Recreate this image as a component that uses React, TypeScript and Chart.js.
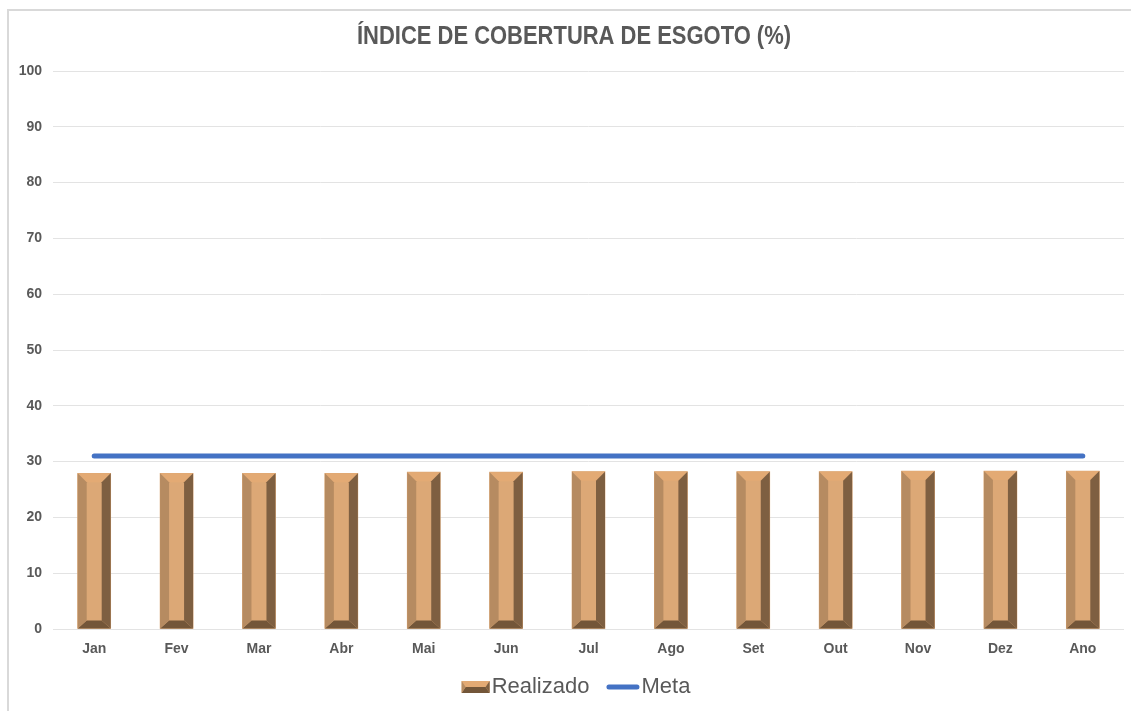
import React, { useEffect, useRef } from "react";
import { Chart, registerables } from "chart.js";

Chart.register(...registerables);

const categories = ["Jan", "Fev", "Mar", "Abr", "Mai", "Jun", "Jul", "Ago", "Set", "Out", "Nov", "Dez", "Ano"];
const realizado = [27.9, 27.9, 27.9, 27.9, 28.1, 28.1, 28.2, 28.2, 28.2, 28.2, 28.3, 28.3, 28.3];
const meta = [31, 31, 31, 31, 31, 31, 31, 31, 31, 31, 31, 31, 31];
const yTicks = [0, 10, 20, 30, 40, 50, 60, 70, 80, 90, 100];
const titleText = "ÍNDICE DE COBERTURA DE ESGOTO (%)";
const seriesNames = ["Realizado", "Meta"];

const FACE = "#DCA876";
const TOP = "#E3AA74";
const LEFT = "#B68B61";
const RIGHT = "#7E5F41";
const BOTTOM = "#735639";
const LINE = "#4472C4";
const TEXT = "#595959";
const SANS = "'Liberation Sans', Arial, sans-serif";

function bevel(ctx: CanvasRenderingContext2D, l: number, t: number, r: number, btm: number, bx: number, bt: number, bb: number) {
  const poly = (pts: number[][], c: string) => {
    ctx.beginPath();
    ctx.moveTo(pts[0][0], pts[0][1]);
    for (let i = 1; i < pts.length; i++) ctx.lineTo(pts[i][0], pts[i][1]);
    ctx.closePath();
    ctx.fillStyle = c;
    ctx.fill();
  };
  ctx.fillStyle = FACE;
  ctx.fillRect(l, t, r - l, btm - t);
  poly([[l, t], [r, t], [r - bx, t + bt], [l + bx, t + bt]], TOP);
  poly([[l, btm], [r, btm], [r - bx, btm - bb], [l + bx, btm - bb]], BOTTOM);
  poly([[l, t], [l + bx, t + bt], [l + bx, btm - bb], [l, btm]], LEFT);
  poly([[r, t], [r - bx, t + bt], [r - bx, btm - bb], [r, btm]], RIGHT);
}

const bevelPlugin = {
  id: "bevelBars",
  afterDatasetsDraw(chart: any) {
    const ctx = chart.ctx as CanvasRenderingContext2D;
    const m = chart.getDatasetMeta(0);
    ctx.save();
    m.data.forEach((el: any) => {
      const { x, y, base, width } = el.getProps(["x", "y", "base", "width"], true);
      bevel(ctx, x - width / 2, y, x + width / 2, base, 9, 9, 8);
    });
    ctx.restore();
  },
};

const titlePlugin = {
  id: "narrowTitle",
  afterDraw(chart: any) {
    const ctx = chart.ctx as CanvasRenderingContext2D;
    ctx.save();
    ctx.font = `bold 25px ${SANS}`;
    const w = ctx.measureText(titleText).width;
    const sx = 434 / w;
    ctx.translate(574, 37);
    ctx.scale(sx, 1);
    ctx.fillStyle = TEXT;
    ctx.textAlign = "center";
    ctx.textBaseline = "middle";
    ctx.fillText(titleText, 0, 0);
    ctx.restore();
  },
};

const legendPlugin = {
  id: "customLegend",
  afterDraw(chart: any) {
    const ctx = chart.ctx as CanvasRenderingContext2D;
    ctx.save();
    ctx.font = `22px ${SANS}`;
    const w1 = ctx.measureText(seriesNames[0]).width;
    const w2 = ctx.measureText(seriesNames[1]).width;
    const iconW = 28, lineW = 33, gap = 2, sep = 17;
    const total = iconW + gap + w1 + sep + lineW + gap + w2;
    const cx = 576;
    const cy = 687;
    let x = cx - total / 2;
    bevel(ctx, x, cy - 6, x + iconW, cy + 6, 4, 6, 6);
    x += iconW + gap;
    ctx.fillStyle = TEXT;
    ctx.textBaseline = "middle";
    ctx.textAlign = "left";
    ctx.fillText(seriesNames[0], x, cy);
    x += w1 + sep;
    ctx.strokeStyle = LINE;
    ctx.lineWidth = 5;
    ctx.lineCap = "round";
    ctx.beginPath();
    ctx.moveTo(x + 2.5, cy);
    ctx.lineTo(x + lineW - 2.5, cy);
    ctx.stroke();
    x += lineW + gap;
    ctx.fillStyle = TEXT;
    ctx.fillText(seriesNames[1], x, cy);
    ctx.restore();
  },
};

export default function App() {
  const ref = useRef<HTMLCanvasElement | null>(null);
  useEffect(() => {
    if (!ref.current) return;
    const chart = new Chart(ref.current, {
      type: "bar",
      data: {
        labels: categories,
        datasets: [
          {
            type: "bar",
            label: seriesNames[0],
            data: realizado,
            backgroundColor: FACE,
            barThickness: 33,
            order: 2,
          } as any,
          {
            type: "line",
            label: seriesNames[1],
            data: meta,
            borderColor: LINE,
            borderWidth: 5,
            borderCapStyle: "round",
            pointRadius: 0,
            fill: false,
            order: 1,
          } as any,
        ],
      },
      options: {
        animation: false,
        responsive: false,
        maintainAspectRatio: false,
        layout: { padding: { left: 8, right: 7, top: 71, bottom: 42 } },
        plugins: {
          legend: { display: false },
          tooltip: { enabled: false },
          title: { display: false },
        },
        scales: {
          x: {
            afterFit: (s: any) => { s.height = 40; },
            grid: { display: false, drawTicks: false },
            border: { display: false },
            ticks: { color: TEXT, font: { family: SANS, size: 14, weight: "bold" }, padding: 12, maxRotation: 0 },
          },
          y: {
            min: 0,
            max: 100,
            afterFit: (s: any) => { s.width = 45; },
            afterBuildTicks: (s: any) => { s.ticks = yTicks.map((v) => ({ value: v })); },
            grid: { color: "#e3e3e3", lineWidth: 1, drawTicks: false },
            border: { display: false },
            ticks: { color: TEXT, font: { family: SANS, size: 14, weight: "bold" }, padding: 11 },
          },
        },
      } as any,
      plugins: [bevelPlugin, titlePlugin, legendPlugin],
    });
    return () => chart.destroy();
  }, []);
  return (
    <div style={{ position: "fixed", left: 0, top: 0, width: 1131, height: 711, background: "#fff", overflow: "hidden" }}>
      <div style={{ position: "absolute", left: 7, top: 9, right: -5, bottom: -5, borderLeft: "2px solid #d9d9d9", borderTop: "2px solid #d9d9d9" }} />
      <canvas ref={ref} width={1131} height={711} style={{ position: "absolute", left: 0, top: 0 }} />
    </div>
  );
}
